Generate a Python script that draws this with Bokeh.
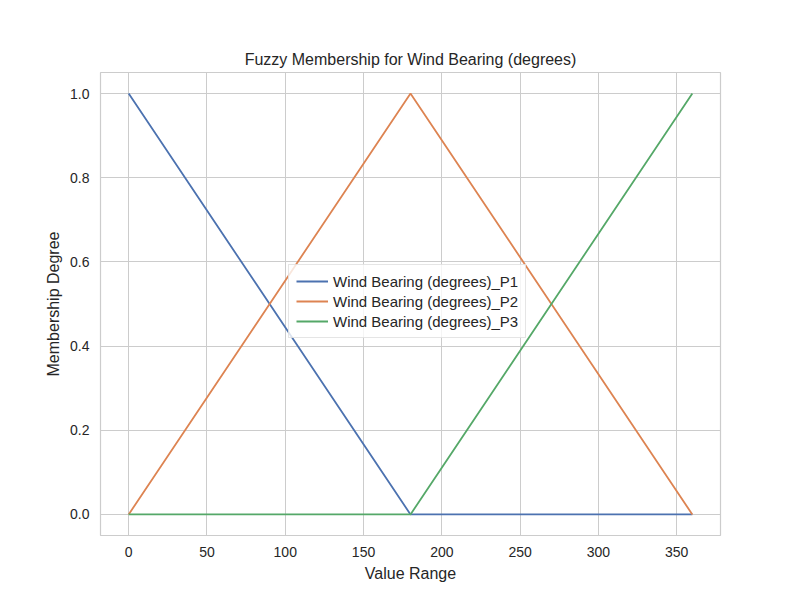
from bokeh.plotting import figure
from bokeh.models import Range1d, Legend, LegendItem, PrintfTickFormatter
from bokeh.embed import file_html
from bokeh.resources import INLINE

x = [0, 180, 360]
p1 = [1.0, 0.0, 0.0]
p2 = [0.0, 1.0, 0.0]
p3 = [0.0, 0.0, 1.0]
names = ["Wind Bearing (degrees)_P1", "Wind Bearing (degrees)_P2", "Wind Bearing (degrees)_P3"]
colors = ["#4c72b0", "#dd8452", "#55a868"]
xticks = [0, 50, 100, 150, 200, 250, 300, 350]
yticks = [0.0, 0.2, 0.4, 0.6, 0.8, 1.0]

font = "Liberation Sans"
p = figure(width=784, height=584, output_backend="svg", toolbar_location=None,
           x_range=Range1d(-18, 378), y_range=Range1d(-0.05, 1.05),
           title="Fuzzy Membership for Wind Bearing (degrees)",
           x_axis_label="Value Range", y_axis_label="Membership Degree",
           min_border_left=100, min_border_right=64, min_border_top=72, min_border_bottom=49)
p.title.align = "center"
p.title.text_font = font
p.title.text_font_size = "16px"
p.title.text_font_style = "normal"
p.title.text_color = "#262626"

items = []
for ys, n, c in zip([p1, p2, p3], names, colors):
    r = p.line(x, ys, line_color=c, line_width=1.8)
    items.append(LegendItem(label=n, renderers=[r]))

p.xaxis.ticker = xticks
p.yaxis.ticker = yticks
p.yaxis.formatter = PrintfTickFormatter(format="%.1f")
for ax in [p.xaxis, p.yaxis]:
    ax.axis_line_color = None
    ax.major_tick_line_color = None
    ax.minor_tick_line_color = None
    ax.major_label_text_font = font
    ax.major_label_text_font_size = "14px"
    ax.major_label_text_color = "#262626"
    ax.axis_label_text_font = font
    ax.axis_label_text_font_size = "16px"
    ax.axis_label_text_font_style = "normal"
    ax.axis_label_text_color = "#262626"
p.grid.grid_line_color = "#cccccc"
p.grid.grid_line_width = 1
p.outline_line_color = "#cccccc"
p.outline_line_width = 1.2

legend = Legend(items=items, location=(188, 197))
legend.label_text_font = font
legend.label_text_font_size = "15px"
legend.label_text_color = "#262626"
legend.border_line_color = "#cccccc"
legend.background_fill_alpha = 0.8
legend.spacing = 2
legend.padding = 7
legend.label_height = 18
legend.glyph_height = 18
legend.glyph_width = 32
p.add_layout(legend, "center")

open("out.html", "w").write(file_html(p, INLINE))
